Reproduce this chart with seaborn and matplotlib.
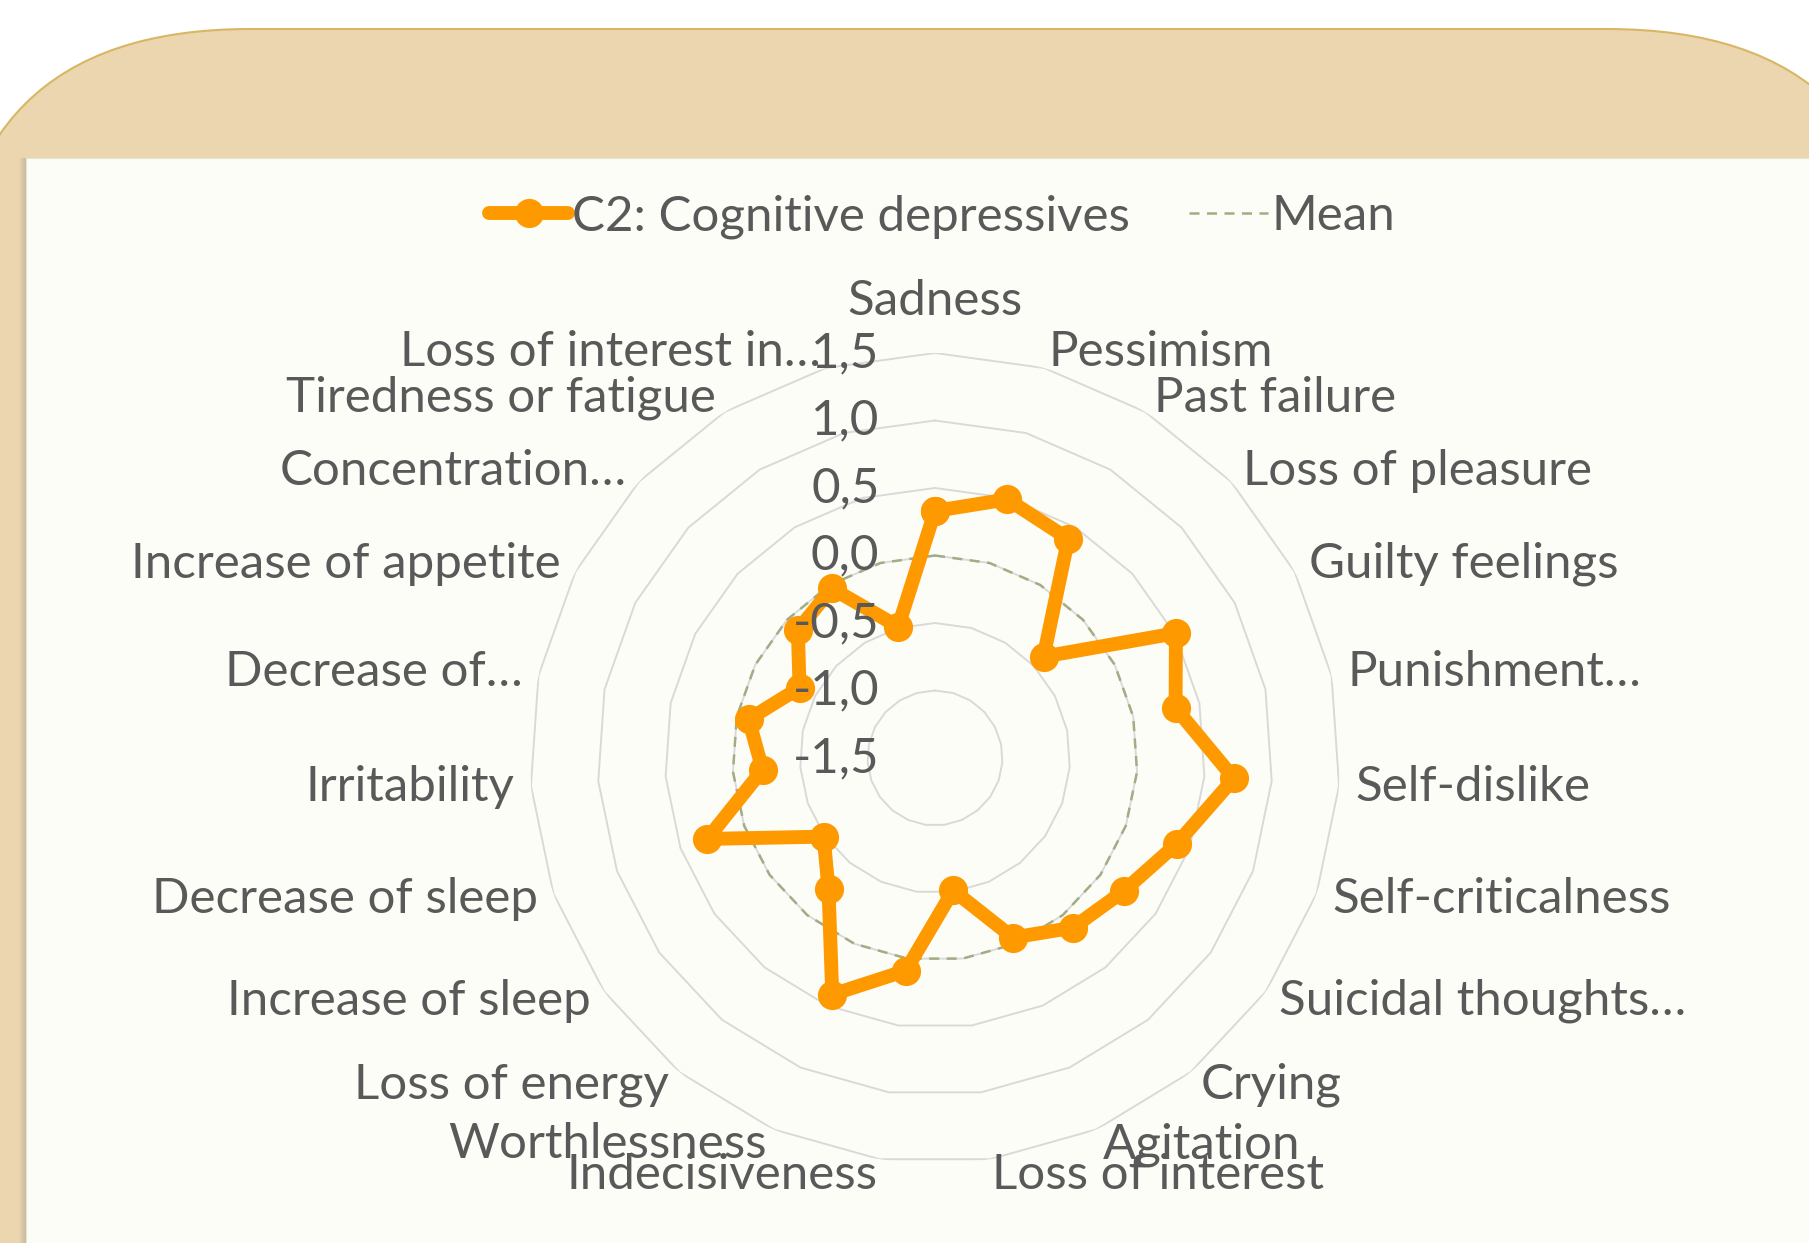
import numpy as np
import pandas as pd
import seaborn as sns
import matplotlib.pyplot as plt
from matplotlib.patches import FancyBboxPatch, Rectangle

categories = ["Sadness", "Pessimism", "Past failure", "Loss of pleasure", "Guilty feelings",
              "Punishment…", "Self-dislike", "Self-criticalness", "Suicidal thoughts…", "Crying",
              "Agitation", "Loss of interest", "Indecisiveness", "Worthlessness", "Loss of energy",
              "Increase of sleep", "Decrease of sleep", "Irritability", "Decrease of…",
              "Increase of appetite", "Concentration…", "Tiredness or fatigue", "Loss of interest in…"]
c2_values = [0.33, 0.49, 0.40, -0.40, 0.51, 0.32, 0.72, 0.40, 0.21, 0.12, -0.05, -0.51,
             0.09, 0.41, -0.25, -0.49, 0.29, -0.22, -0.09, -0.37, -0.11, -0.03, -0.49]
mean_values = [0.0] * len(categories)
r_ticks = [-1.5, -1.0, -0.5, 0.0, 0.5, 1.0, 1.5]
r_tick_labels = ["-1,5", "-1,0", "-0,5", "0,0", "0,5", "1,0", "1,5"]

sns.set_style('white')
plt.rcParams['font.family'] = ['Lato', 'DejaVu Sans']
txt_color = '#595959'
fs = 35.5

fig = plt.figure(figsize=(18.09, 12.43), dpi=100)
fig.patch.set_facecolor('white')

# background frame (tan rounded box + off-white panel)
bg = fig.add_axes([0, 0, 1, 1])
bg.set_xlim(0, 1809)
bg.set_ylim(1243, 0)
bg.axis('off')
bg.add_patch(FancyBboxPatch((-50, 29), 1957, 1400, boxstyle='round,pad=0,rounding_size=300',
                            fc='#EBD6AF', ec='#D8B663', lw=1.5))
for i in range(8):
    bg.add_patch(Rectangle((26 - i, 158), 1, 1200, fc='#7f7f7f', ec='none', alpha=0.35 * (1 - i / 8)))
bg.add_patch(Rectangle((26, 158), 1900, 1200, fc='#FDFDF8', ec='#E6E2D6', lw=0.8))

# radar axes
ax = fig.add_axes([530 / 1809, 80 / 1243, 810 / 1809, 810 / 1243], projection='polar')
ax.set_facecolor('none')
ax.set_theta_zero_location('N')
ax.set_theta_direction(-1)
n = len(categories)
theta = np.linspace(0, 2 * np.pi, n, endpoint=False)
theta_c = np.append(theta, theta[0])

for t in r_ticks:
    ax.plot(theta_c, [t] * (n + 1), color='#D9D9D9', linewidth=1.4, zorder=1)

df = pd.DataFrame({'theta': theta_c,
                   'c2': c2_values + c2_values[:1],
                   'mean': mean_values + mean_values[:1]})
sns.lineplot(data=df, x='theta', y='mean', sort=False, estimator=None, ax=ax,
             color='#A2AD86', linewidth=1.8, linestyle=(0, (4, 3)), label='Mean', zorder=2)
sns.lineplot(data=df, x='theta', y='c2', sort=False, estimator=None, ax=ax,
             color='#FF9900', linewidth=10, marker='o', markersize=21, markeredgewidth=0,
             solid_capstyle='round', solid_joinstyle='round',
             label='C2: Cognitive depressives', zorder=3)

ax.set_ylim(-1.5, 1.5)
ax.grid(False)
ax.set_xticks([])
ax.set_yticks([])
ax.set_xlabel('')
ax.set_ylabel('')
ax.spines['polar'].set_visible(False)
if ax.get_legend():
    ax.get_legend().remove()

for ang, lab in zip(theta, categories):
    s = np.sin(ang)
    if abs(s) < 1e-6:
        ax.text(ang, 1.72, lab, ha='center', va='bottom', fontsize=fs, color=txt_color)
    else:
        ax.text(ang, 1.62, lab, ha='left' if s > 0 else 'right', va='center',
                fontsize=fs, color=txt_color)

for t, lbl in zip(r_ticks, r_tick_labels):
    ax.annotate(lbl, xy=(0, t), xytext=(-40, 0), textcoords='offset points',
                ha='right', va='center', fontsize=fs, color=txt_color)

handles, labels = ax.get_legend_handles_labels()
order = [labels.index('C2: Cognitive depressives'), labels.index('Mean')]
fig.legend([handles[i] for i in order], [labels[i] for i in order],
           loc='center', bbox_to_anchor=(0.521, 0.826), ncol=2, frameon=False,
           fontsize=fs, labelcolor=txt_color, handlelength=1.6, handletextpad=0.08,
           columnspacing=1.2)

plt.savefig('out.png', dpi=100)
